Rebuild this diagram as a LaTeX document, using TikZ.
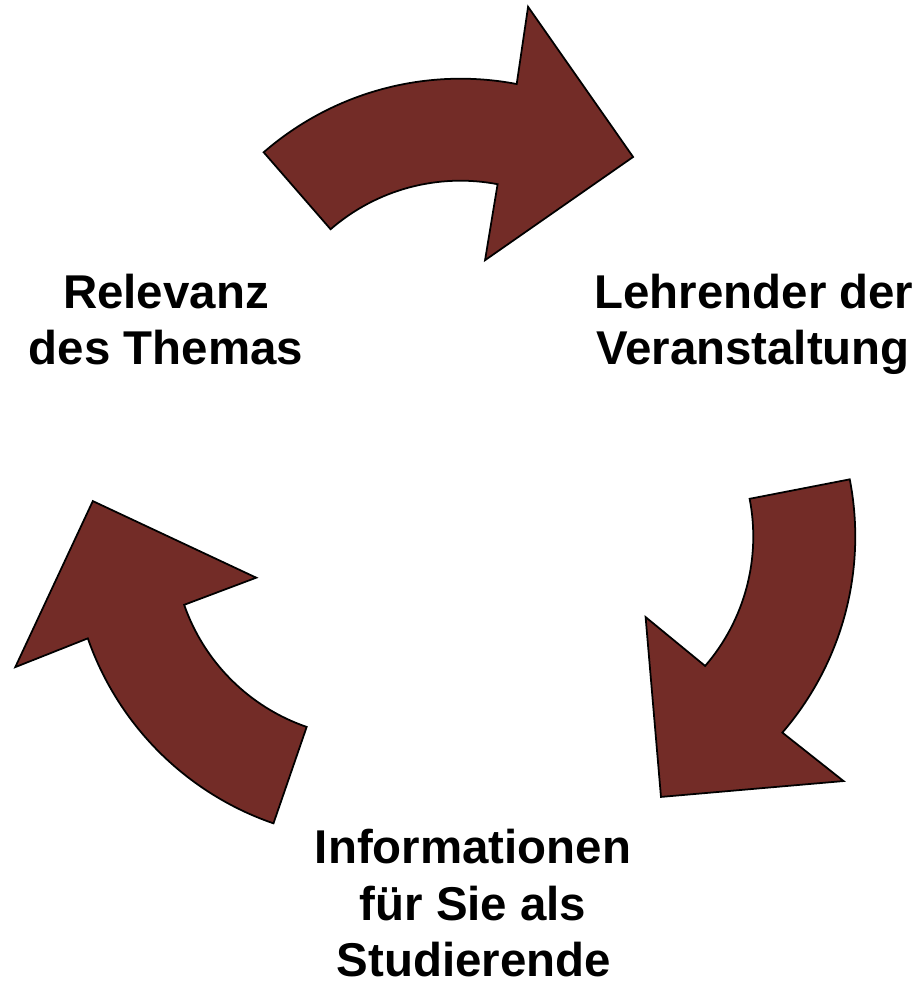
\documentclass[tikz,border=0pt]{standalone}
\usepackage{fontspec}
\setmainfont{Liberation Sans}
\usetikzlibrary{calc}
\definecolor{arrowfill}{RGB}{115,44,39}
\tikzset{
  cyclearrow/.style={fill=arrowfill, draw=black, line width=1pt, line join=miter},
  lbl/.style={anchor=base, inner sep=0pt, font=\fontsize{27pt}{32pt}\selectfont\bfseries}
}
\begin{document}
\begin{tikzpicture}[x=0.02cm, y=0.02cm]
\useasboundingbox (0,0) rectangle (920,984);
\coordinate (C) at (462.3,499);
\foreach \rot in {0,-120,-240}{
  \begin{scope}[rotate around={\rot:(C)}]
    \begin{scope}[shift={(460.5,605.3)}]
      \draw[cyclearrow] (131:300) arc[start angle=131, end angle=79.2, radius=300]
        -- (79.7:378) -- (52.1:281) -- (78.3:121) -- (79.2:198)
        arc[start angle=79.2, end angle=131, radius=198] -- cycle;
    \end{scope}
  \end{scope}
}
\node[lbl] (rel1) at (166,675) {Relevanz};
\node[lbl] (rel2) at (166,619) {des Themas};
\node[lbl] (leh1) at (754,675) {Lehrender der};
\node[lbl] (leh2) at (753,619) {Veranstaltung};
\node[lbl] (inf1) at (473,120) {Informationen};
\node[lbl] (inf2) at (473,63) {für Sie als};
\node[lbl] (inf3) at (474,8) {Studierende};
\end{tikzpicture}
\end{document}
